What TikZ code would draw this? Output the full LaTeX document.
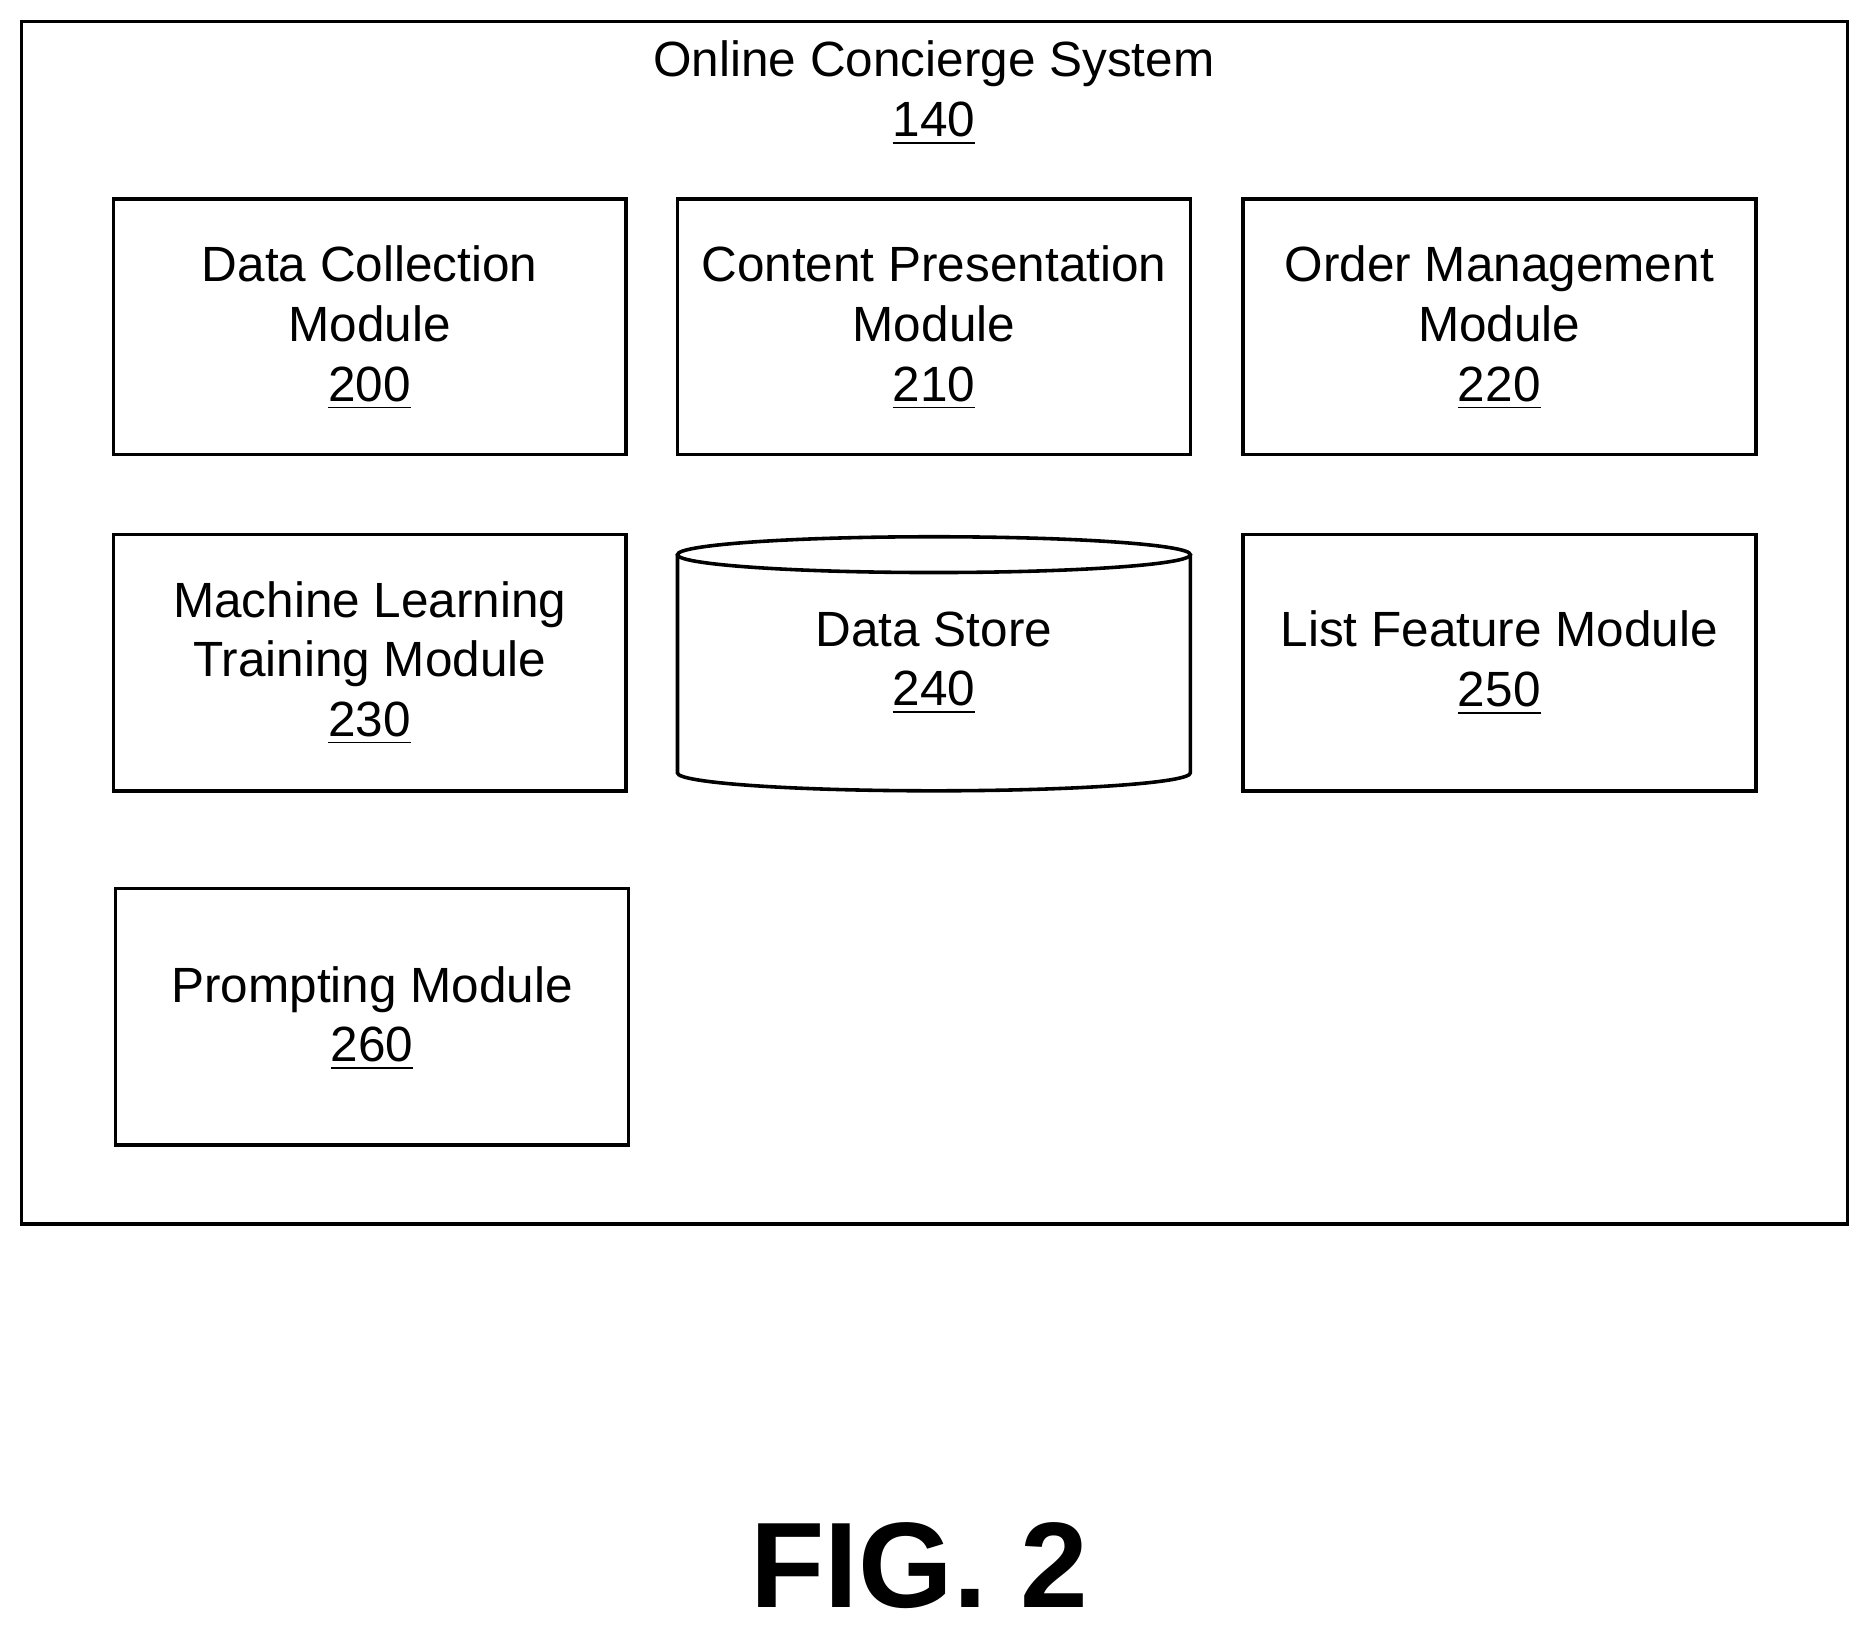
\documentclass[tikz,border=0pt]{standalone}
\usepackage{fontspec}
\setmainfont{Liberation Sans}
\begin{document}
\begin{tikzpicture}[x=0.01cm,y=-0.01cm,
 box/.style={draw,line width=0.03cm},
 lbl/.style={align=center,font=\fontsize{11.8}{14.2}\selectfont,inner sep=0pt}]
\useasboundingbox (0,0) rectangle (1567,1365);
\draw[box] (18,18) rectangle (1549,1026);
\node[lbl] (title) at (783,78) {Online Concierge System\\\underline{140}};
\draw[box] (95,167) rectangle (525,381);
\node[lbl] (m200) at (310,275) {Data Collection\\Module\\\underline{200}};
\draw[box] (568,167) rectangle (998,381);
\node[lbl] (m210) at (783,275) {Content Presentation\\Module\\\underline{210}};
\draw[box] (1042,167) rectangle (1472,381);
\node[lbl] (m220) at (1257,275) {Order Management\\Module\\\underline{220}};
\draw[box] (95,448) rectangle (525,663);
\node[lbl] (m230) at (310,556) {Machine Learning\\Training Module\\\underline{230}};
\draw[box] (568,465) -- (568,648) arc[start angle=180,end angle=360,x radius=215,y radius=-15] -- (998,465);
\draw[box] (783,465) ellipse[x radius=215,y radius=15];
\node[lbl] (m240) at (783,556) {Data Store\\\underline{240}};
\draw[box] (1042,448) rectangle (1472,663);
\node[lbl] (m250) at (1257,556) {List Feature Module\\\underline{250}};
\draw[box] (97,745) rectangle (527,960);
\node[lbl] (m260) at (312,854) {Prompting Module\\\underline{260}};
\node[font=\fontsize{29}{35}\selectfont\bfseries,inner sep=0pt] (fig) at (771,1313) {FIG. 2};
\end{tikzpicture}
\end{document}
